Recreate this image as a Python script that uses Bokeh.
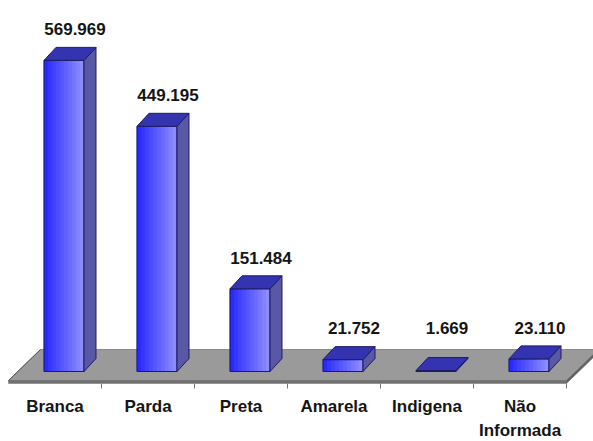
from bokeh.plotting import figure
from bokeh.models import Range1d
from bokeh.core.properties import value
from bokeh.embed import file_html
from bokeh.resources import INLINE

# ---- data ----
categories = ["Branca", "Parda", "Preta", "Amarela", "Indigena", "Não\nInformada"]
counts = [569969, 449195, 151484, 21752, 1669, 23110]
value_labels = ["569.969", "449.195", "151.484", "21.752", "1.669", "23.110"]

# ---- scale calibration (pixels) ----
W, H = 593, 441
PX_CAT = 93.0          # pixels per category slot
UPX = 1832.0           # data units per vertical pixel
X0_PX = 8.0            # left front corner of floor
BASE_PX = 371.0        # pixel row of value 0 (front bottom of bars)

def px_x(p):
    return p / PX_CAT

def px_y(p):
    return p * UPX

x_start = -X0_PX / PX_CAT
y_end = BASE_PX * UPX
p = figure(width=W, height=H, output_backend="svg", toolbar_location=None,
           x_range=Range1d(x_start, x_start + W / PX_CAT),
           y_range=Range1d(y_end - H * UPX, y_end),
           min_border=0, background_fill_color="white", border_fill_color="white")
p.axis.visible = False
p.grid.visible = False
p.outline_line_color = None

n = len(categories)

# ---- floor ----
f_front = -px_y(9)
f_depth_x = px_x(32)
f_depth_y = px_y(31)
thick = px_y(3)
p.patch([0, n, n + f_depth_x, f_depth_x],
        [f_front, f_front, f_front + f_depth_y, f_front + f_depth_y],
        fill_color="#9a9a9a", line_color="#8a8a8a", line_width=1)
# front face
p.patch([0, n, n, 0], [f_front, f_front, f_front - thick, f_front - thick],
        fill_color="#707070", line_color="#707070", line_width=0.5)
# right side face
p.patch([n, n + f_depth_x, n + f_depth_x, n],
        [f_front, f_front + f_depth_y, f_front + f_depth_y - thick, f_front - thick],
        fill_color="#606060", line_color="#606060", line_width=0.5)
# left edge line
p.line([0, f_depth_x], [f_front, f_front + f_depth_y], line_color="#555555", line_width=1)

# ticks below floor front edge
p.segment(x0=list(range(1, n + 1)), y0=[f_front - thick] * n,
          x1=list(range(1, n + 1)), y1=[f_front - px_y(8)] * n,
          line_color="#777777", line_width=1)

# ---- bars ----
shift = px_x(9)
bw = 0.43
dx = px_x(12)
dy = px_y(13)
outline = "#1c1c66"

def hex_lerp(a, b, t):
    a = [int(a[i:i + 2], 16) for i in (1, 3, 5)]
    b = [int(b[i:i + 2], 16) for i in (1, 3, 5)]
    return "#%02x%02x%02x" % tuple(round(a[k] + (b[k] - a[k]) * t) for k in range(3))

NSTRIP = 10
c_left, c_right = "#2a2aff", "#8c8cff"
strip_l, strip_r, strip_t, strip_b, strip_c = [], [], [], [], []
side_xs, side_ys, top_xs, top_ys = [], [], [], []
lefts, rights, tops = [], [], []
for i, v in enumerate(counts):
    cx = i + 0.5 + shift
    l, r = cx - bw / 2, cx + bw / 2
    lefts.append(l); rights.append(r); tops.append(v)
    for k in range(NSTRIP):
        strip_l.append(l + (r - l) * k / NSTRIP)
        strip_r.append(l + (r - l) * (k + 1) / NSTRIP)
        strip_b.append(0)
        strip_t.append(v)
        strip_c.append(hex_lerp(c_left, c_right, k / (NSTRIP - 1)))
    side_xs.append([r, r + dx, r + dx, r])
    side_ys.append([0, dy, v + dy, v])
    top_xs.append([l, r, r + dx, l + dx])
    top_ys.append([v, v, v + dy, v + dy])

p.quad(left=strip_l, right=strip_r, top=strip_t, bottom=strip_b,
       fill_color=strip_c, line_color=strip_c, line_width=0.5)
p.quad(left=lefts, right=rights, top=tops, bottom=[0] * n,
       fill_color=None, line_color=outline, line_width=1)
p.patches(side_xs, side_ys, fill_color="#5858a4", line_color=outline, line_width=1)
p.patches(top_xs, top_ys, fill_color="#3434b0", line_color=outline, line_width=1)

# ---- value labels ----
min_anchor = 0.04 * max(counts)
lab_x = [i + 0.5 + shift + px_x(11) for i in range(n)]
lab_y = [max(v, min_anchor) + dy + px_y(18) for v in counts]
p.text(x=lab_x, y=lab_y, text=value_labels, text_align="center", text_baseline="middle",
       text_font=value("Liberation Sans"), text_font_style="bold",
       text_font_size="17px", text_color="#151515")

# ---- category labels ----
p.text(x=[i + 0.5 for i in range(n)], y=[-px_y(25)] * n, text=categories,
       text_align="center", text_baseline="top", text_line_height=1.3,
       text_font=value("Liberation Sans"), text_font_style="bold",
       text_font_size="17px", text_color="#151515")

open("out.html", "w").write(file_html(p, INLINE))
